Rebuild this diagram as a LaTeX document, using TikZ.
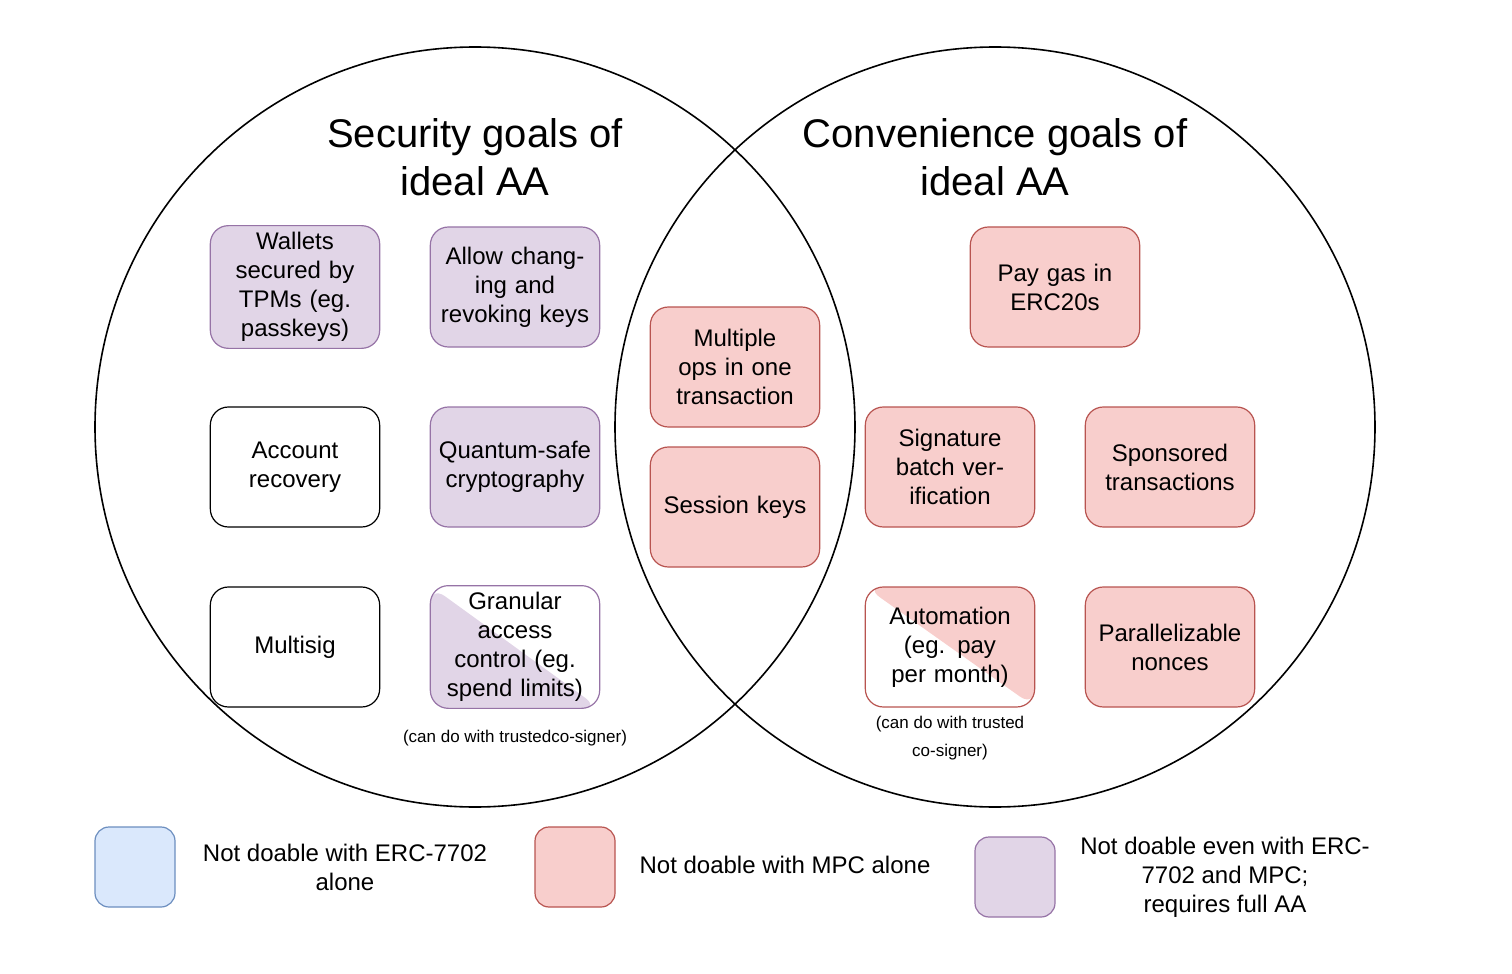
\documentclass[tikz,border=0pt]{standalone}
\usepackage{fontspec}
\setmainfont{Liberation Sans}
\usepackage{tikz}
\definecolor{purpF}{HTML}{E1D5E7}
\definecolor{purpD}{HTML}{9673A6}
\definecolor{pinkF}{HTML}{F8CECC}
\definecolor{pinkD}{HTML}{B85450}
\definecolor{blueF}{HTML}{DAE8FC}
\definecolor{blueD}{HTML}{6C8EBF}
\tikzset{
  goal/.style={draw, rounded corners=9pt, minimum width=80pt, minimum height=60pt,
    text width=78pt, align=center, font=\fontsize{12}{14.5}\selectfont, line width=0.6pt},
  sec/.style={goal, fill=purpF, draw=purpD},
  conv/.style={goal, fill=pinkF, draw=pinkD},
  plain/.style={goal, fill=white, draw=black},
  key/.style={draw, rounded corners=7pt, minimum size=40pt, line width=0.6pt},
  keytext/.style={align=center, font=\fontsize{12}{14.5}\selectfont},
  note/.style={font=\fontsize{8.5}{10}\selectfont},
  title/.style={align=center, font=\fontsize{20}{24}\selectfont}
}
\begin{document}
\begin{tikzpicture}[x=0.5pt, y=-0.5pt]
\useasboundingbox (0,0) rectangle (1512,974);

%Circles
\draw[line width=0.8pt] (475,427) circle (190pt);
\draw[line width=0.8pt] (995,427) circle (190pt);
\node[title] (sectitle) at (475,157) {Security goals of\\ideal AA};
\node[title] (convtitle) at (995,157) {Convenience goals of\\ideal AA};

% Security goals
\node[sec] (wallets) at (295,287) {Wallets secured by TPMs (eg. passkeys)};
\node[sec] (allow) at (515,287) {Allow changing and revoking keys};
\node[plain] (recovery) at (295,467) {Account recovery};
\node[sec] (quantum) at (515,467) {Quantum-safe cryptography};
\node[plain] (multisig) at (295,647) {Multisig};
\node[goal, draw=purpD, path picture={
    \fill[purpF] (path picture bounding box.north west) -- (path picture bounding box.south east)
      -- (path picture bounding box.south west) -- cycle;}]
  (granular) at (515,647) {Granular access control (eg. spend limits)};
\node[note] (grannote) at (515,738) {(can do with trusted\\[4pt]co-signer)};
\node[note, align=center] at (515,738) {};

% Shared
\node[conv] (multiops) at (735,367) {Multiple ops in one transaction};
\node[conv] (session) at (735,507) {Session keys};

% Convenience goals
\node[conv] (paygas) at (1055,287) {Pay gas in ERC20s};
\node[conv] (sigbatch) at (950,467) {Signature batch verification};
\node[conv] (sponsored) at (1170,467) {Sponsored transactions};
\node[goal, draw=pinkD, path picture={
    \fill[pinkF] (path picture bounding box.north west) -- (path picture bounding box.north east)
      -- (path picture bounding box.south east) -- cycle;}]
  (automation) at (950,647) {Automation (eg. pay per month)};
\node[note, align=center] (autonote) at (950,738) {(can do with trusted\\[4pt]co-signer)};
\node[conv] (nonces) at (1170,647) {Parallelizable nonces};

% Legend
\node[key, fill=blueF, draw=blueD] (keyblue) at (135,867) {};
\node[keytext] (txtblue) at (345,867) {Not doable with ERC-7702\\alone};
\node[key, fill=pinkF, draw=pinkD] (keypink) at (575,867) {};
\node[keytext] (txtpink) at (785,865) {Not doable with MPC alone};
\node[key, fill=purpF, draw=purpD] (keypurp) at (1015,877) {};
\node[keytext] (txtpurp) at (1225,877) {Not doable even with ERC-\\7702 and MPC;\\requires full AA};
\end{tikzpicture}
\end{document}
